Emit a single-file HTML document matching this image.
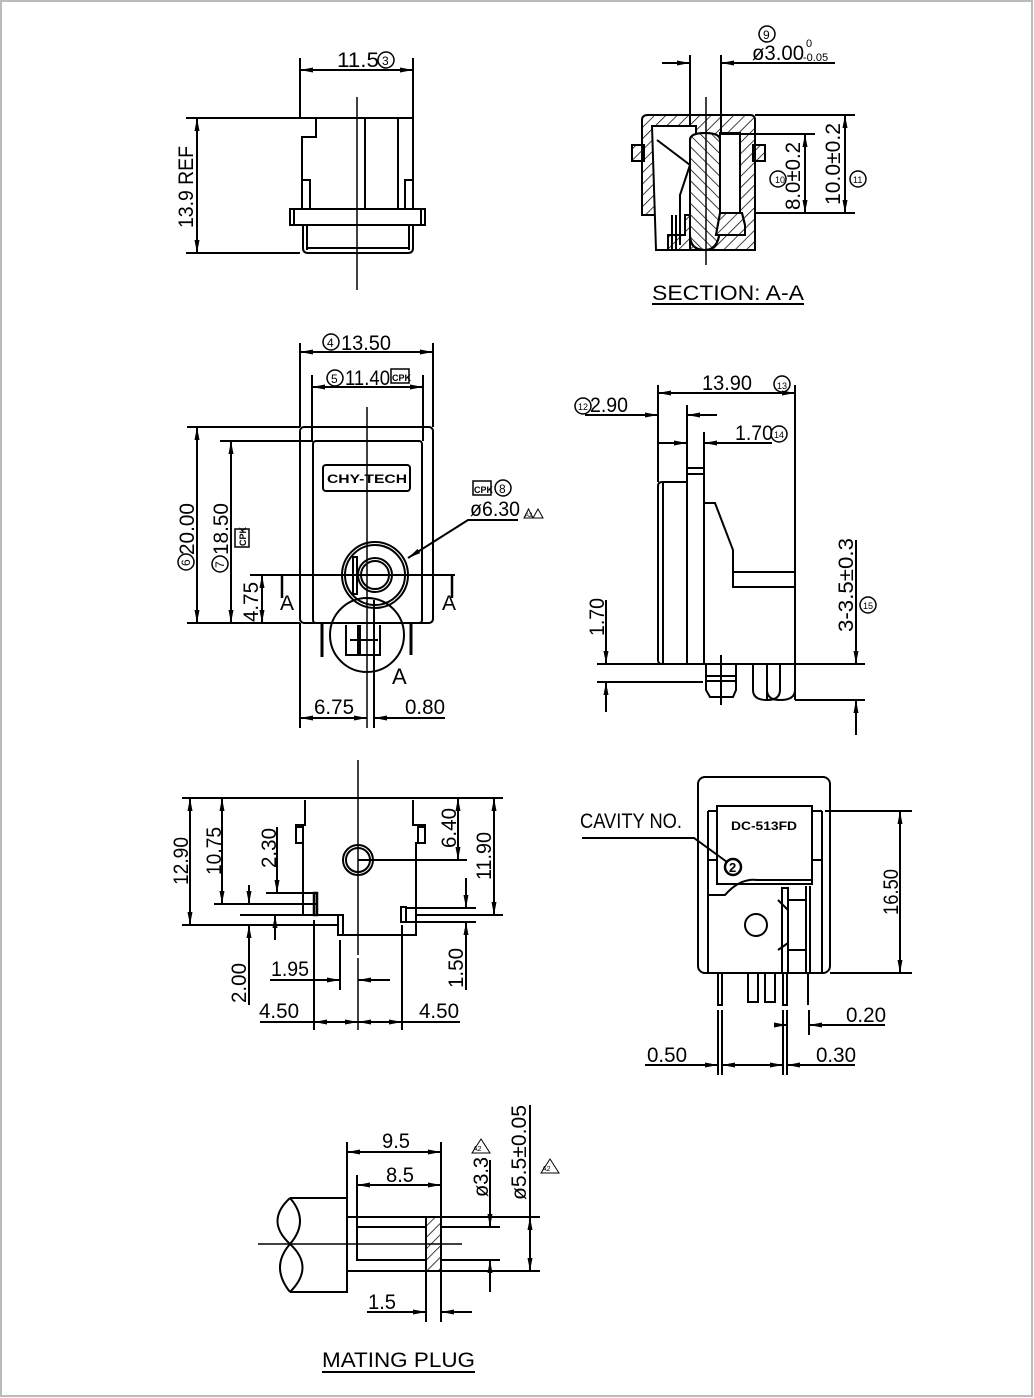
<!DOCTYPE html>
<html><head><meta charset="utf-8"><style>
html,body{margin:0;padding:0;background:#fff}
svg{display:block}
text{font-family:"Liberation Sans",sans-serif;fill:#000}
</style></head><body>
<svg width="1034" height="1398" viewBox="0 0 1034 1398" xmlns="http://www.w3.org/2000/svg">
<defs>
<marker id="a" markerWidth="14" markerHeight="8" refX="13" refY="4" orient="auto-start-reverse" markerUnits="userSpaceOnUse"><path d="M0,1.5 L13,4 L0,6.5 Z" fill="#000"/></marker>
<pattern id="h" width="8" height="8" patternUnits="userSpaceOnUse" patternTransform="rotate(45)"><line x1="0" y1="0" x2="0" y2="8" stroke="#000" stroke-width="1.5"/></pattern>
<pattern id="h2" width="8" height="8" patternUnits="userSpaceOnUse" patternTransform="rotate(-45)"><line x1="0" y1="0" x2="0" y2="8" stroke="#000" stroke-width="1.5"/></pattern>
</defs>
<rect x="1" y="1" width="1031" height="1395" fill="none" stroke="#bbb" stroke-width="2"/>
<g stroke="#000" stroke-width="2" fill="none">
<!-- VIEW 1 -->
<line x1="300" y1="58" x2="300" y2="118"/><line x1="413" y1="58" x2="413" y2="118"/>
<line x1="300" y1="70" x2="413" y2="70" marker-start="url(#a)" marker-end="url(#a)"/>
<path d="M300,118 H413 V209 M316,118 V137 H302 V209 M365,118 V209 M398,118 V209"/>
<rect x="302" y="180" width="8" height="29"/><rect x="405" y="180" width="8" height="29"/>
<rect x="290" y="209" width="135" height="16"/><line x1="294" y1="209" x2="294" y2="225"/><line x1="421" y1="209" x2="421" y2="225"/>
<path d="M303,225 V248 Q303,253 308,253 H408 Q413,253 413,248 V225 M307,225 V250 M409,225 V250 M306,248 H410"/>
<line x1="357" y1="97" x2="357" y2="290" stroke-width="1.5"/>
<line x1="186" y1="118" x2="300" y2="118"/><line x1="186" y1="253" x2="300" y2="253"/>
<line x1="197" y1="118" x2="197" y2="253" marker-start="url(#a)" marker-end="url(#a)"/>
<!-- SECTION A-A -->
<line x1="690" y1="55" x2="690" y2="250"/><line x1="721" y1="55" x2="721" y2="215"/>
<line x1="662" y1="63" x2="690" y2="63" marker-end="url(#a)"/>
<line x1="835" y1="63" x2="721" y2="63" marker-end="url(#a)"/>
<path d="M642,120 Q642,115 648,115 H750 Q755,115 755,120 V250 H656 V215 H642 Z" fill="url(#h)"/>
<rect x="632" y="145" width="12" height="16" fill="url(#h)"/><rect x="753" y="145" width="12" height="16" fill="url(#h)"/>
<path d="M652,126 H696 V215 H685 V235 H668 V250 H656 Z" fill="#fff"/>
<path d="M720,133 H740 V213 H720 Z" fill="#fff"/>
<path d="M690,215 V140 Q690,133 705,133 Q720,133 720,140 V225 Q720,250 705,250 Q690,250 690,235 Z" fill="#fff"/>
<path d="M690,215 V140 Q690,133 705,133 Q720,133 720,140 V225 Q720,250 705,250 Q690,250 690,235 Z" fill="url(#h2)"/>
<path d="M720,213 H742 L745,225 V235 H716 Z" fill="#fff"/>
<path d="M720,213 H742 L745,225 V235 H716 Z" fill="url(#h)"/>
<path d="M657,140 L690,165 L680,195 L680,245" />
<line x1="672" y1="215" x2="672" y2="250"/><line x1="676" y1="215" x2="676" y2="250"/>
<line x1="706" y1="97" x2="706" y2="265" stroke-width="1.5"/>
<line x1="755" y1="115" x2="855" y2="115"/><line x1="720" y1="134" x2="815" y2="134"/><line x1="755" y1="213" x2="855" y2="213"/>
<line x1="805" y1="134" x2="805" y2="213" marker-start="url(#a)" marker-end="url(#a)"/>
<line x1="845" y1="115" x2="845" y2="213" marker-start="url(#a)" marker-end="url(#a)"/>
<line x1="652" y1="304" x2="804" y2="304"/>
<!-- MIDDLE LEFT -->
<line x1="300" y1="343" x2="300" y2="427"/><line x1="433" y1="343" x2="433" y2="427"/>
<line x1="300" y1="352" x2="433" y2="352" marker-start="url(#a)" marker-end="url(#a)"/>
<line x1="312" y1="375" x2="312" y2="441"/><line x1="423" y1="375" x2="423" y2="441"/>
<line x1="312" y1="387" x2="423" y2="387" marker-start="url(#a)" marker-end="url(#a)"/>
<rect x="300" y="427" width="133" height="196" rx="4"/>
<rect x="313" y="441" width="109" height="182" rx="3"/>
<rect x="323" y="465" width="87" height="26" rx="3"/>
<line x1="367" y1="407" x2="367" y2="728" stroke-width="1.5"/>
<circle cx="375" cy="575" r="33"/><circle cx="375" cy="575" r="30"/><circle cx="375" cy="575" r="17"/><circle cx="375" cy="575" r="14"/>
<rect x="353" y="557" width="4" height="37"/>
<circle cx="367" cy="635" r="37"/>
<line x1="282" y1="575" x2="455" y2="575"/>
<line x1="282" y1="575" x2="282" y2="598" stroke-width="2.5"/><line x1="452" y1="575" x2="452" y2="598" stroke-width="2.5"/>
<line x1="322" y1="623" x2="322" y2="657" stroke-width="3"/><line x1="411" y1="623" x2="411" y2="655" stroke-width="3"/>
<path d="M346,625 V655 H358 V625 M360,625 V655 H380 V625 M350,640 H378"/>
<path d="M518,520 H468 L408,558" marker-end="url(#a)"/>
<line x1="187" y1="427" x2="300" y2="427"/><line x1="187" y1="623" x2="300" y2="623"/>
<line x1="220" y1="441" x2="313" y2="441"/>
<line x1="197" y1="427" x2="197" y2="623" marker-start="url(#a)" marker-end="url(#a)"/>
<line x1="231" y1="441" x2="231" y2="623" marker-start="url(#a)" marker-end="url(#a)"/>
<line x1="250" y1="575" x2="282" y2="575"/>
<line x1="262" y1="575" x2="262" y2="623" marker-start="url(#a)" marker-end="url(#a)"/>
<line x1="300" y1="623" x2="300" y2="728"/><line x1="374" y1="600" x2="374" y2="728"/>
<line x1="300" y1="718" x2="367" y2="718" marker-start="url(#a)" marker-end="url(#a)"/>
<line x1="445" y1="718" x2="374" y2="718" marker-end="url(#a)"/>
<!-- MIDDLE RIGHT -->
<line x1="658" y1="385" x2="658" y2="482"/><line x1="795" y1="385" x2="795" y2="700"/>
<line x1="658" y1="393" x2="795" y2="393" marker-start="url(#a)" marker-end="url(#a)"/>
<line x1="687" y1="405" x2="687" y2="468"/><line x1="704" y1="432" x2="704" y2="468"/>
<line x1="585" y1="415" x2="658" y2="415" marker-end="url(#a)"/>
<line x1="717" y1="415" x2="687" y2="415" marker-end="url(#a)"/>
<line x1="658" y1="443" x2="687" y2="443" marker-end="url(#a)"/>
<line x1="772" y1="443" x2="704" y2="443" marker-end="url(#a)"/>
<path d="M658,486 Q658,482 662,482 H687 V664 H662 Q658,664 658,660 Z"/><line x1="663" y1="482" x2="663" y2="664"/>
<rect x="687" y="468" width="17" height="196"/><line x1="687" y1="474" x2="704" y2="474"/>
<path d="M704,503 H715 L733,550 V587 H795 M733,572 H795"/>
<line x1="597" y1="664" x2="865" y2="664"/><line x1="597" y1="682" x2="703" y2="682"/>
<path d="M706,664 V690 L710,697 H733 L736,690 V664 M706,676 H736 M706,681 H736"/>
<line x1="721" y1="655" x2="721" y2="705"/>
<path d="M753,664 V690 Q753,700 767,700 Q780,700 780,690 M767,700 Q767,664 767,664 M767,690 Q767,700 780,700 Q795,700 795,690 M780,664 V690"/>
<line x1="795" y1="700" x2="865" y2="700"/>
<line x1="606" y1="600" x2="606" y2="664" marker-end="url(#a)"/>
<line x1="606" y1="712" x2="606" y2="682" marker-end="url(#a)"/>
<line x1="856" y1="540" x2="856" y2="664" marker-end="url(#a)"/>
<line x1="856" y1="735" x2="856" y2="700" marker-end="url(#a)"/>
<!-- BOTTOM LEFT -->
<line x1="182" y1="798" x2="503" y2="798"/>
<path d="M305,800 V825 H296 V843 H303 V915 M413,800 V825 H425 V843 H416 V935 H343"/>
<rect x="296" y="827" width="7" height="16"/><rect x="418" y="827" width="7" height="16"/>
<line x1="358" y1="760" x2="358" y2="955" stroke-width="1.5"/><line x1="358" y1="958" x2="358" y2="1030" stroke-width="1.5"/>
<circle cx="358" cy="860" r="15"/><circle cx="358" cy="860" r="12"/>
<line x1="358" y1="860" x2="467" y2="860"/>
<rect x="314" y="893" width="3" height="22" stroke-width="2.5"/><rect x="338" y="915" width="5" height="20"/>
<line x1="266" y1="893" x2="316" y2="893"/><line x1="214" y1="904" x2="316" y2="904"/>
<line x1="240" y1="915" x2="343" y2="915"/><line x1="240" y1="925" x2="338" y2="925"/><line x1="182" y1="925" x2="240" y2="925"/>
<rect x="401" y="907" width="5" height="15"/>
<line x1="406" y1="908" x2="476" y2="908"/><line x1="416" y1="915" x2="503" y2="915"/><line x1="406" y1="922" x2="476" y2="922"/>
<line x1="190" y1="798" x2="190" y2="925" marker-start="url(#a)" marker-end="url(#a)"/>
<line x1="222" y1="798" x2="222" y2="904" marker-start="url(#a)" marker-end="url(#a)"/>
<line x1="277" y1="827" x2="277" y2="893" marker-end="url(#a)"/>
<line x1="249" y1="885" x2="249" y2="904" marker-end="url(#a)"/>
<line x1="249" y1="1005" x2="249" y2="925" marker-end="url(#a)"/>
<line x1="275" y1="940" x2="275" y2="915" marker-end="url(#a)"/>
<line x1="458" y1="798" x2="458" y2="860" marker-start="url(#a)" marker-end="url(#a)"/>
<line x1="494" y1="798" x2="494" y2="915" marker-start="url(#a)" marker-end="url(#a)"/>
<line x1="466" y1="878" x2="466" y2="908" marker-end="url(#a)"/>
<line x1="466" y1="990" x2="466" y2="922" marker-end="url(#a)"/>
<line x1="314" y1="920" x2="314" y2="1030"/><line x1="340" y1="940" x2="340" y2="990"/><line x1="402" y1="925" x2="402" y2="1030"/>
<line x1="270" y1="980" x2="340" y2="980" marker-end="url(#a)"/>
<line x1="390" y1="980" x2="358" y2="980" marker-end="url(#a)"/>
<line x1="314" y1="1022" x2="358" y2="1022" marker-start="url(#a)" marker-end="url(#a)"/>
<line x1="358" y1="1022" x2="402" y2="1022" marker-start="url(#a)" marker-end="url(#a)"/>
<line x1="260" y1="1022" x2="314" y2="1022"/><line x1="402" y1="1022" x2="460" y2="1022"/>
<!-- BOTTOM RIGHT -->
<rect x="698" y="777" width="132" height="196" rx="7"/>
<rect x="717" y="806" width="95" height="78"/>
<path d="M708,811 H717 M812,811 H822 M708,811 V973 M822,811 V973 M708,895 H725 Q740,878 757,880 H812 V884 M708,860 H717 M812,860 H822"/>
<line x1="825" y1="811" x2="912" y2="811"/><line x1="830" y1="973" x2="912" y2="973"/>
<line x1="900" y1="811" x2="900" y2="973" marker-start="url(#a)" marker-end="url(#a)"/>
<circle cx="756" cy="925" r="11"/>
<path d="M782,888 H788 V973 H782 Z M806,886 V973 M810,886 V973 M788,900 H806 M788,950 H806 M778,900 L788,910 M778,950 L788,943"/>
<path d="M582,838 H694 L727,862"/>
<circle cx="733" cy="867" r="8" stroke-width="2.5"/>
<path d="M718,973 V1005 H722 V973 M783,973 V1005 H787 V973 M808,973 V1005 M748,973 V1002 H758 V973 M765,973 V1002 H775 V973"/>
<line x1="718" y1="1010" x2="718" y2="1075"/><line x1="722" y1="1010" x2="722" y2="1075"/>
<line x1="783" y1="1010" x2="783" y2="1075"/><line x1="787" y1="1010" x2="787" y2="1075"/>
<line x1="809" y1="1010" x2="809" y2="1035"/>
<line x1="777" y1="1025" x2="787" y2="1025" marker-end="url(#a)"/>
<line x1="885" y1="1025" x2="809" y2="1025" marker-end="url(#a)"/>
<line x1="645" y1="1065" x2="718" y2="1065" marker-end="url(#a)"/>
<line x1="722" y1="1065" x2="783" y2="1065" marker-start="url(#a)" marker-end="url(#a)"/>
<line x1="855" y1="1065" x2="787" y2="1065" marker-end="url(#a)"/>
<!-- MATING PLUG -->
<path d="M347,1198 H290 M347,1198 V1292 H290"/>
<path d="M290,1198 Q265,1221 290,1244 Q315,1267 290,1292 M290,1198 Q310,1221 290,1244 Q270,1267 290,1292"/>
<line x1="347" y1="1217" x2="540" y2="1217"/><line x1="347" y1="1271" x2="540" y2="1271"/>
<path d="M426,1227 H357 V1260 H426"/>
<rect x="426" y="1217" width="15" height="54" fill="url(#h)"/>
<line x1="258" y1="1244" x2="462" y2="1244" stroke-width="1.5"/>
<line x1="441" y1="1227" x2="500" y2="1227"/><line x1="441" y1="1260" x2="500" y2="1260"/>
<line x1="347" y1="1142" x2="347" y2="1198"/><line x1="357" y1="1175" x2="357" y2="1227"/><line x1="441" y1="1142" x2="441" y2="1217"/>
<line x1="347" y1="1152" x2="441" y2="1152" marker-start="url(#a)" marker-end="url(#a)"/>
<line x1="357" y1="1185" x2="441" y2="1185" marker-start="url(#a)" marker-end="url(#a)"/>
<line x1="490" y1="1160" x2="490" y2="1227" marker-end="url(#a)"/>
<line x1="490" y1="1292" x2="490" y2="1260" marker-end="url(#a)"/>
<line x1="530" y1="1105" x2="530" y2="1217"/>
<line x1="530" y1="1217" x2="530" y2="1271" marker-start="url(#a)" marker-end="url(#a)"/>
<line x1="426" y1="1271" x2="426" y2="1322"/><line x1="441" y1="1271" x2="441" y2="1322"/>
<line x1="367" y1="1312" x2="426" y2="1312" marker-end="url(#a)"/>
<line x1="472" y1="1312" x2="441" y2="1312" marker-end="url(#a)"/>
<line x1="322" y1="1372" x2="475" y2="1372"/>
<!-- circled numbers -->
<circle cx="386" cy="60" r="8" stroke-width="1.5"/>
<circle cx="767" cy="34" r="8" stroke-width="1.5"/>
<circle cx="778" cy="179" r="8" stroke-width="1.5"/><circle cx="858" cy="179" r="8" stroke-width="1.5"/>
<circle cx="331" cy="342" r="8" stroke-width="1.5"/><circle cx="335" cy="378" r="8" stroke-width="1.5"/>
<circle cx="503" cy="488" r="8" stroke-width="1.5"/>
<circle cx="186" cy="562" r="8" stroke-width="1.5"/><circle cx="220" cy="564" r="8" stroke-width="1.5"/>
<circle cx="782" cy="384" r="8" stroke-width="1.5"/><circle cx="583" cy="406" r="8" stroke-width="1.5"/><circle cx="779" cy="434" r="8" stroke-width="1.5"/>
<circle cx="868" cy="605" r="8" stroke-width="1.5"/>
<rect x="391" y="369" width="18" height="14" stroke-width="1.5"/>
<rect x="473" y="481" width="18" height="14" stroke-width="1.5"/>
<rect x="235" y="529" width="14" height="18" stroke-width="1.5"/>
<path d="M533,518 L524,518 L528.5,509 Z M543,518 L533,518 L538,509 Z" stroke-width="1"/>
<path d="M472,1153 L490,1153 L481,1139 Z" stroke-width="1"/>
<path d="M541,1173 L559,1173 L550,1159 Z" stroke-width="1"/>
</g>
<g font-size="21">
<text x="337" y="67" textLength="42" lengthAdjust="spacingAndGlyphs">11.5</text>
<text x="382" y="65" font-size="12">3</text>
<text transform="translate(193,228) rotate(-90)" textLength="82" lengthAdjust="spacingAndGlyphs">13.9 REF</text>
<text x="763" y="39" font-size="12">9</text>
<text x="752" y="60" textLength="52" lengthAdjust="spacingAndGlyphs">ø3.00</text>
<text x="806" y="47" font-size="11">0</text><text x="803" y="61" font-size="11">-0.05</text>
<text transform="translate(800,210) rotate(-90)" textLength="68" lengthAdjust="spacingAndGlyphs">8.0±0.2</text>
<text transform="translate(840,205) rotate(-90)" textLength="82" lengthAdjust="spacingAndGlyphs">10.0±0.2</text>
<text x="775" y="183" font-size="9">10</text><text x="853" y="183" font-size="9">11</text>
<text x="652" y="300" textLength="152" lengthAdjust="spacingAndGlyphs">SECTION: A-A</text>
<text x="327" y="347" font-size="12">4</text><text x="341" y="350" textLength="50" lengthAdjust="spacingAndGlyphs">13.50</text>
<text x="331" y="383" font-size="12">5</text><text x="345" y="385" textLength="45" lengthAdjust="spacingAndGlyphs">11.40</text>
<text x="392" y="381" font-size="9" font-weight="bold">CPK</text>
<text x="474" y="493" font-size="9" font-weight="bold">CPK</text>
<text x="499" y="493" font-size="12">8</text>
<text x="470" y="516" textLength="50" lengthAdjust="spacingAndGlyphs">ø6.30</text>
<text x="525" y="517" font-size="6">A2</text>
<text x="327" y="483" font-size="12" font-weight="bold" textLength="80" lengthAdjust="spacingAndGlyphs">CHY-TECH</text>
<text transform="translate(246,546) rotate(-90)" font-size="9" font-weight="bold">CPK</text>
<text transform="translate(194,555) rotate(-90)" textLength="52" lengthAdjust="spacingAndGlyphs">20.00</text>
<text transform="translate(190,566) rotate(-90)" font-size="12">6</text>
<text transform="translate(228,555) rotate(-90)" textLength="52" lengthAdjust="spacingAndGlyphs">18.50</text>
<text transform="translate(224,568) rotate(-90)" font-size="12">7</text>
<text transform="translate(258,622) rotate(-90)" textLength="40" lengthAdjust="spacingAndGlyphs">4.75</text>
<text x="280" y="610">A</text><text x="442" y="610">A</text>
<text x="392" y="684" font-size="22">A</text>
<text x="314" y="714" textLength="40" lengthAdjust="spacingAndGlyphs">6.75</text>
<text x="405" y="714" textLength="40" lengthAdjust="spacingAndGlyphs">0.80</text>
<text x="702" y="390" textLength="50" lengthAdjust="spacingAndGlyphs">13.90</text>
<text x="777" y="389" font-size="9">13</text>
<text x="578" y="410" font-size="9">12</text>
<text x="590" y="412" textLength="38" lengthAdjust="spacingAndGlyphs">2.90</text>
<text x="735" y="440" textLength="38" lengthAdjust="spacingAndGlyphs">1.70</text>
<text x="774" y="438" font-size="9">14</text>
<text transform="translate(604,636) rotate(-90)" textLength="38" lengthAdjust="spacingAndGlyphs">1.70</text>
<text transform="translate(853,632) rotate(-90)" textLength="94" lengthAdjust="spacingAndGlyphs">3-3.5±0.3</text>
<text x="863" y="609" font-size="9">15</text>
<text transform="translate(188,885) rotate(-90)" textLength="48" lengthAdjust="spacingAndGlyphs">12.90</text>
<text transform="translate(221,875) rotate(-90)" textLength="48" lengthAdjust="spacingAndGlyphs">10.75</text>
<text transform="translate(276,868) rotate(-90)" textLength="40" lengthAdjust="spacingAndGlyphs">2.30</text>
<text transform="translate(456,848) rotate(-90)" textLength="40" lengthAdjust="spacingAndGlyphs">6.40</text>
<text transform="translate(491,880) rotate(-90)" textLength="48" lengthAdjust="spacingAndGlyphs">11.90</text>
<text transform="translate(246,1003) rotate(-90)" textLength="40" lengthAdjust="spacingAndGlyphs">2.00</text>
<text transform="translate(463,988) rotate(-90)" textLength="40" lengthAdjust="spacingAndGlyphs">1.50</text>
<text x="271" y="976" textLength="38" lengthAdjust="spacingAndGlyphs">1.95</text>
<text x="259" y="1018" textLength="40" lengthAdjust="spacingAndGlyphs">4.50</text>
<text x="419" y="1018" textLength="40" lengthAdjust="spacingAndGlyphs">4.50</text>
<text x="580" y="828" textLength="102" lengthAdjust="spacingAndGlyphs">CAVITY NO.</text>
<text x="729" y="872" font-size="13" font-weight="bold">2</text>
<text x="731" y="830" font-size="12" font-weight="bold" textLength="66" lengthAdjust="spacingAndGlyphs">DC-513FD</text>
<text transform="translate(898,915) rotate(-90)" textLength="46" lengthAdjust="spacingAndGlyphs">16.50</text>
<text x="846" y="1022" textLength="40" lengthAdjust="spacingAndGlyphs">0.20</text>
<text x="647" y="1062" textLength="40" lengthAdjust="spacingAndGlyphs">0.50</text>
<text x="816" y="1062" textLength="40" lengthAdjust="spacingAndGlyphs">0.30</text>
<text x="382" y="1148" textLength="28" lengthAdjust="spacingAndGlyphs">9.5</text>
<text x="386" y="1182" textLength="28" lengthAdjust="spacingAndGlyphs">8.5</text>
<text x="473" y="1151" font-size="7">A2</text><text x="542" y="1171" font-size="7">A2</text>
<text transform="translate(488,1197) rotate(-90)" textLength="40" lengthAdjust="spacingAndGlyphs">ø3.3</text>
<text transform="translate(526,1200) rotate(-90)" textLength="95" lengthAdjust="spacingAndGlyphs">ø5.5±0.05</text>
<text x="368" y="1309" textLength="28" lengthAdjust="spacingAndGlyphs">1.5</text>
<text x="322" y="1367" textLength="153" lengthAdjust="spacingAndGlyphs">MATING PLUG</text>
</g>
</svg>
</body></html>
